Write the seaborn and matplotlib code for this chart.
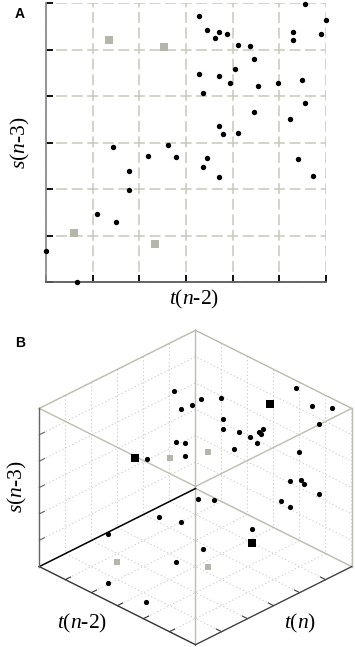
import matplotlib
import matplotlib.pyplot as plt
import numpy as np
import seaborn as sns
from mpl_toolkits.mplot3d import proj3d


matplotlib.use('Agg')

# ---- panel A: return map t(n-2) vs s(n-3) ----
a_dot_t = [3.28, 3.45, 3.71, 3.63, 3.87, 4.12, 4.38, 4.46, 3.28, 3.71, 4.04, 3.95, 4.54, 4.97,
           5.48, 3.37, 5.56, 4.46, 5.22, 3.71, 3.79, 4.12, 1.43, 2.62, 2.19, 2.78, 3.45, 3.37,
           3.71, 5.39, 5.72, 1.77, 1.77, 1.10, 1.51, 0.00, 0.67, 5.56, 5.99, 5.89, 5.30, 5.30]
a_dot_s = [5.73, 5.42, 5.37, 5.25, 5.33, 5.10, 5.07, 4.80, 4.47, 4.42, 4.59, 4.27, 4.22, 4.29,
           4.34, 4.06, 3.86, 3.65, 3.50, 3.36, 3.18, 3.20, 2.91, 2.95, 2.72, 2.68, 2.67, 2.47,
           2.25, 2.64, 2.27, 2.39, 1.98, 1.46, 1.28, 0.66, 0.00, 5.97, 5.63, 5.34, 5.38, 5.20]
a_sq_t = [1.34, 2.53, 0.59, 2.34]
a_sq_s = [5.20, 5.05, 1.05, 0.82]

# ---- panel B: 3D map t(n), t(n-2), s(n-3) ----
b_dot_tn = [1.78, 1.94, 1.53, 1.26, 1.06, 0.15, 0.33, 0.19, 0.61, 1.43, 1.63, 1.54, 1.54,
            1.35, 1.37, 1.24, 1.59, 1.92, 2.69, 2.47, 2.71, 3.87, 1.02, 1.19, 0.97, 0.92,
            0.63, 1.36, 1.19, 3.12, 2.68, 3.88, 3.78, 4.71, 2.13, 3.95, 4.59, 5.67, 5.67]
b_dot_tn2 = [0.96, 1.38, 1.40, 1.49, 2.05, 4.01, 4.82, 5.44, 5.35, 2.50, 2.70, 3.20, 3.62,
             3.78, 3.87, 3.85, 3.94, 3.40, 1.96, 2.08, 2.32, 2.01, 4.98, 4.81, 5.03, 5.08,
             5.38, 4.65, 4.82, 3.23, 3.40, 2.47, 3.23, 1.33, 4.31, 4.24, 3.86, 2.29, 3.75]
b_dot_sn3 = [5.06, 4.64, 4.62, 4.76, 4.95, 5.85, 5.67, 5.82, 5.40, 4.59, 4.40, 4.49, 4.50,
             4.67, 4.65, 4.78, 4.44, 4.12, 4.07, 3.96, 3.73, 4.02, 4.35, 3.24, 3.29, 3.13,
             2.76, 2.50, 2.25, 2.72, 2.55, 2.07, 2.18, 1.27, 1.66, 1.73, 1.39, 0.33, 0.33]
b_blk_tn = [4.16, 0.70, 2.40]
b_blk_tn2 = [1.85, 3.57, 4.58]
b_blk_sn3 = [4.12, 5.31, 1.39]
b_gry_tn = [3.20, 2.22, 5.17, 4.14]
b_gry_tn2 = [2.22, 2.70, 2.14, 4.62]
b_gry_sn3 = [3.82, 3.82, 0.82, 1.36]

grid_ticks = [0, 1, 2, 3, 4, 5, 6]
GRAY = '#b4b6aa'
W_PX, H_PX = 355, 647

plt.rcParams['font.family'] = 'Liberation Serif'
plt.rcParams['mathtext.fontset'] = 'custom'
plt.rcParams['mathtext.rm'] = 'Liberation Serif'
plt.rcParams['mathtext.it'] = 'Liberation Serif:italic'
plt.rcParams['lines.scale_dashes'] = False

fig = plt.figure(figsize=(W_PX / 100, H_PX / 100), dpi=100)
fig.patch.set_facecolor('white')

# Panel A
ax = fig.add_axes([46 / W_PX, 1 - 282 / H_PX, 280 / W_PX, 279 / H_PX])
sns.scatterplot(x=a_dot_t, y=a_dot_s, color='black', s=15, linewidth=0,
                ax=ax, clip_on=False, zorder=4)
sns.scatterplot(x=a_sq_t, y=a_sq_s, color=GRAY, marker='s', s=26, linewidth=0,
                ax=ax, clip_on=False, zorder=4)
ax.set_xlim(0, 6)
ax.set_ylim(0, 6)
ax.set_xticks(grid_ticks)
ax.set_yticks(grid_ticks)
ax.grid(True, color='#c8c8bc', linewidth=1.1, linestyle=(3.9, (7.9, 3.3)))
ax.set_axisbelow(True)
ax.tick_params(direction='in', length=5, width=1.3, color='black',
               labelleft=False, labelbottom=False)
for side in ['top', 'right']:
    ax.spines[side].set_visible(False)
ax.spines['left'].set_color('#8c8c8c')
ax.spines['left'].set_linewidth(1.3)
ax.spines['bottom'].set_color('#5a5a5a')
ax.spines['bottom'].set_linewidth(1.3)
ax.set_xlabel('$t$($n$-2)', fontsize=15.5)
ax.set_ylabel('$s$($n$-3)', fontsize=15.5)
ax.xaxis.label.set_verticalalignment('center')
ax.yaxis.label.set_verticalalignment('center')
ax.xaxis.set_label_coords(0.528, -0.061)
ax.yaxis.set_label_coords(-0.09, 0.50)
fig.text(20 / W_PX, 1 - 14 / H_PX, 'A', fontsize=10, fontweight='bold',
         family='Liberation Sans', ha='center', va='center')

# Panel B
ax3 = fig.add_axes([0.0, 0.0, 1.0, W_PX / H_PX], projection='3d', computed_zorder=False)
ax3.set_proj_type('ortho')
ax3.view_init(elev=30, azim=45)
ax3.set_box_aspect((1, 1, 0.827))
ax3.set_xlim(0, 6)
ax3.set_ylim(0, 6)
ax3.set_zlim(0, 6)
ax3.set_xticks(grid_ticks)
ax3.set_yticks(grid_ticks)
ax3.set_zticks(grid_ticks)
ax3.set_xticklabels([])
ax3.set_yticklabels([])
ax3.set_zticklabels([])
ax3.patch.set_alpha(0)
for axis in (ax3.xaxis, ax3.yaxis, ax3.zaxis):
    axis._axinfo['grid'].update(color='#c6c6c6', linewidth=0.6, linestyle=':')
    axis._axinfo['tick'].update(inward_factor=0, outward_factor=0)
    axis.line.set_color((0, 0, 0, 0))
    axis.set_pane_color((1, 1, 1, 0))
    axis.pane.set_edgecolor((1, 1, 1, 0))

lo, hi = 0, 6
light = dict(color='#bcbcb0', linewidth=1.0, zorder=1)
edges_light = [((lo, lo, lo), (lo, lo, hi)), ((lo, lo, hi), (hi, lo, hi)),
               ((lo, lo, hi), (lo, hi, hi)), ((lo, hi, hi), (lo, hi, lo)),
               ((lo, lo, lo), (lo, hi, lo)), ((hi, hi, hi), (hi, lo, hi)),
               ((hi, hi, hi), (lo, hi, hi)), ((hi, hi, hi), (hi, hi, lo))]
for p, q in edges_light:
    ax3.plot([p[0], q[0]], [p[1], q[1]], [p[2], q[2]], **light)
ax3.plot([lo, hi], [lo, lo], [lo, lo], color='black', linewidth=1.1, zorder=2)
ax3.plot([hi, hi], [lo, hi], [lo, lo], color='#333333', linewidth=1.0, zorder=2)
ax3.plot([hi, lo], [hi, hi], [lo, lo], color='#444444', linewidth=1.0, zorder=2)
ax3.plot([hi, hi], [lo, lo], [lo, hi], color='#666666', linewidth=1.0, zorder=2)
tl = 0.2
for k in grid_ticks[1:-1]:
    ax3.plot([hi, hi - tl], [k, k], [lo, lo], color='#333333', linewidth=0.8, zorder=2)
    ax3.plot([k, k], [hi, hi - tl], [lo, lo], color='#444444', linewidth=0.8, zorder=2)
    ax3.plot([hi, hi - tl], [lo, lo], [k, k], color='#666666', linewidth=0.8, zorder=2)

ax3.scatter(b_dot_tn, b_dot_tn2, b_dot_sn3, c='black', s=14, marker='o',
            depthshade=False, linewidths=0, zorder=4)
ax3.scatter(b_blk_tn, b_blk_tn2, b_blk_sn3, c='black', s=28, marker='s',
            depthshade=False, linewidths=0, zorder=4)
ax3.scatter(b_gry_tn, b_gry_tn2, b_gry_sn3, c=GRAY, s=22, marker='s',
            depthshade=False, linewidths=0, zorder=4)

# fit the projected cube onto the hexagon of the reference
fig.canvas.draw()
cube = np.array([[x, y, z] for x in (lo, hi) for y in (lo, hi) for z in (lo, hi)], float)
px, py, _ = proj3d.proj_transform(cube[:, 0], cube[:, 1], cube[:, 2], ax3.get_proj())
disp = ax3.transData.transform(np.column_stack([px, py]))
bb = ax3.get_position()
L, Bt, S = bb.x0 * W_PX, bb.y0 * H_PX, bb.width * W_PX
hx0, hx1 = disp[:, 0].min(), disp[:, 0].max()
hy0, hy1 = disp[:, 1].min(), disp[:, 1].max()
k = (351.7 - 39.3) / (hx1 - hx0)
cx_rel = ((hx0 + hx1) / 2 - L) / S
cy_rel = ((hy0 + hy1) / 2 - Bt) / S
S2 = S * k
tcx = (39.3 + 351.7) / 2
tcy = H_PX - (331.7 + 643.3) / 2
ax3.set_position([(tcx - cx_rel * S2) / W_PX, (tcy - cy_rel * S2) / H_PX, S2 / W_PX, S2 / H_PX])

fig.text(17 / W_PX, 1 - 487 / H_PX, '$s$($n$-3)', fontsize=15.5, rotation=90,
         ha='center', va='center')
fig.text(82 / W_PX, 1 - 623 / H_PX, '$t$($n$-2)', fontsize=15.5, ha='center', va='center')
fig.text(300 / W_PX, 1 - 623 / H_PX, '$t$($n$)', fontsize=15.5, ha='center', va='center')
fig.text(20 / W_PX, 1 - 343 / H_PX, 'B', fontsize=10, fontweight='bold',
         family='Liberation Sans', ha='center', va='center')

fig.savefig('out.png', dpi=100, facecolor='white')
plt.close(fig)
